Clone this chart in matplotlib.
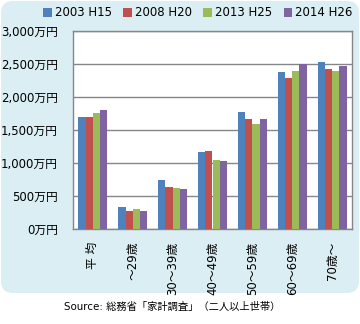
import matplotlib
matplotlib.use("Agg")
import matplotlib.pyplot as plt
import numpy as np
from matplotlib.patches import FancyBboxPatch
from matplotlib.transforms import IdentityTransform

plt.rcParams['font.family'] = ['DejaVu Sans', 'Noto Sans CJK JP']

categories = ["平 均", "～29歳", "30～39歳", "40～49歳", "50～59歳", "60～69歳", "70歳～"]
series_names = ["2003 H15", "2008 H20", "2013 H25", "2014 H26"]
values_2003 = [1690, 327, 747, 1161, 1777, 2373, 2524]
values_2008 = [1690, 277, 640, 1186, 1671, 2292, 2418]
values_2013 = [1752, 297, 626, 1050, 1595, 2388, 2388]
values_2014 = [1808, 277, 611, 1035, 1671, 2494, 2464]
yticks = [0, 500, 1000, 1500, 2000, 2500, 3000]
ytick_labels = ["0万円", "500万円", "1,000万円", "1,500万円", "2,000万円", "2,500万円", "3,000万円"]
colors = ["#4F81BD", "#C0504D", "#9BBB59", "#8064A2"]
source_text = "Source: 総務省「家計調査」（二人以上世帯）"

W, H = 360, 324
fig = plt.figure(figsize=(W / 100, H / 100), dpi=100)
fig.patch.set_facecolor("white")

# light-blue rounded panel behind the chart
bg = FancyBboxPatch((1, 31), 358, 292, boxstyle="round,pad=0,rounding_size=12",
                    transform=IdentityTransform(), facecolor="#DBEEF4",
                    edgecolor="none", zorder=-5)
fig.patches.append(bg)

ax = fig.add_axes([73 / W, 1 - 229 / H, (352 - 73) / W, (229 - 31) / H])
ax.set_facecolor("white")

series = [values_2003, values_2008, values_2013, values_2014]
x = np.arange(len(categories))
bw = 0.182
for i, (vals, name, c) in enumerate(zip(series, series_names, colors)):
    ax.bar(x + (i - 1.5) * bw, vals, width=bw, color=c, label=name, zorder=3)

ax.set_xlim(-0.5, len(categories) - 0.5)
ax.set_ylim(0, 3000)
ax.set_yticks(yticks)
ax.set_yticklabels(ytick_labels, fontsize=8.5)
ax.tick_params(axis="y", length=0, pad=11)
ax.set_xticks(x)
ax.set_xticklabels(categories, rotation=90, fontsize=8.5, va="top", ha="center")
ax.tick_params(axis="x", length=0, pad=9)
ax.yaxis.grid(True, color="#868686", linewidth=1)
ax.set_axisbelow(True)
for s in ax.spines.values():
    s.set_color("#868686")
    s.set_linewidth(1)

handles, labels = ax.get_legend_handles_labels()
fig.legend(handles, labels, loc="center", bbox_to_anchor=(198 / W, 1 - 13 / H),
           ncol=4, frameon=False, fontsize=8.5, handlelength=0.7, handleheight=0.7,
           handletextpad=0.3, columnspacing=0.95, borderaxespad=0, borderpad=0)

fig.text(172 / W, 1 - 307 / H, source_text, ha="center", va="center", fontsize=7.4)

fig.savefig("out.png", dpi=100)
